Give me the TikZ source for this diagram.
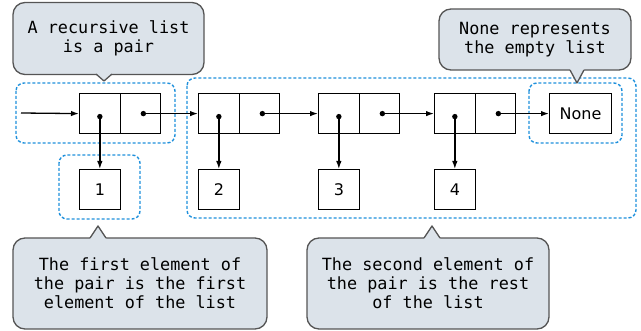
\documentclass[tikz,border=0pt]{standalone}
\usepackage{fontspec}
\setmainfont{DejaVu Sans}
\newfontfamily\monof{DejaVu Sans Mono}
\usetikzlibrary{arrows.meta}
\definecolor{callfill}{RGB}{220,227,234}
\definecolor{callline}{RGB}{85,85,85}
\definecolor{dashblue}{RGB}{30,144,220}
\newcommand\mycallptr[5]{%
  \fill[callfill] ({#1-#4},{#2+#5}) -- ({#1-#4},#2) -- (#1,#3) -- ({#1+#4},#2) -- ({#1+#4},{#2+#5}) -- cycle;
  \draw[callline,line width=1.3pt,line join=round] ({#1-#4},#2) -- (#1,#3) -- ({#1+#4},#2);}
\begin{document}
\begin{tikzpicture}[x=1pt,y=-1pt,
  cell/.style={draw=black,line width=1.2pt,minimum width=40.5pt,minimum height=40pt,inner sep=0pt,anchor=north west,font=\fontsize{16}{19}\selectfont},
  callout/.style={draw=callline,fill=callfill,line width=1.3pt,rounded corners=12pt,align=center,inner sep=0pt,font=\monof\fontsize{16.8}{19}\selectfont},
  dbox/.style={draw=dashblue,line width=1.4pt,dash pattern=on 3pt off 2pt,rounded corners=8pt},
  arr/.style={line width=1.3pt,-{Latex[length=8pt,width=5.5pt]}},
  dot/.style={fill=black}
]
\useasboundingbox (0,0) rectangle (641,331);
% dashed groupings
\draw[dbox] (16,83) rectangle (175,143);
\draw[dbox] (59,155) rectangle (140,219);
\draw[dbox] (187,78) rectangle (636,218);
\draw[dbox] (529,83) rectangle (622,143);
% pairs
\node[cell] (p1a) at (79,93) {};
\node[cell] (p1b) at (119.5,93) {};
\node[cell] (p2a) at (198,93) {};
\node[cell] (p2b) at (238.5,93) {};
\node[cell] (p3a) at (318,93) {};
\node[cell] (p3b) at (358.5,93) {};
\node[cell] (p4a) at (434,93) {};
\node[cell] (p4b) at (474.5,93) {};
\node[cell,minimum width=62pt] (none) at (549,93) {None};
% values
\node[cell] (v1) at (79,169) {1};
\node[cell] (v2) at (198,169) {2};
\node[cell] (v3) at (318,169) {3};
\node[cell] (v4) at (434,169) {4};
% dots
\foreach \p in {1,2,3,4}{
  \coordinate (d\p a) at ([yshift=-3pt]p\p a.center);
  \coordinate (d\p b) at ([xshift=3pt]p\p b.center);
  \fill[dot] (d\p a) circle (2.7pt);
  \fill[dot] (d\p b) circle (2.7pt);
  \draw[arr] (d\p a) -- (v\p.north);
}
\coordinate (start) at (21,113);
\draw[arr] (start) -- (p1a.west);
\draw[arr] (d1b) -- (p2a.west);
\draw[arr] (d2b) -- (p3a.west);
\draw[arr] (d3b) -- (p4a.west);
\draw[arr] (d4b) -- (none.west);
% callouts
\node[callout,minimum width=191pt,minimum height=72pt] (c1) at (108.5,38.5) {A recursive list\\is a pair};
\mycallptr{104}{74}{81}{8}{-1.5}
\node[callout,minimum width=192pt,minimum height=61pt] (c2) at (535,39.5) {None represents\\the empty list};
\mycallptr{577}{70}{83}{7}{-1.5}
\node[callout,minimum width=254pt,minimum height=91pt] (c3) at (140,283.5) {The first element of\\the pair is the first\\element of the list};
\mycallptr{98}{238}{226}{8}{1.5}
\node[callout,minimum width=242pt,minimum height=91pt] (c4) at (428,283.5) {The second element of\\the pair is the rest\\of the list};
\mycallptr{432}{238}{226}{8}{1.5}
\end{tikzpicture}
\end{document}
